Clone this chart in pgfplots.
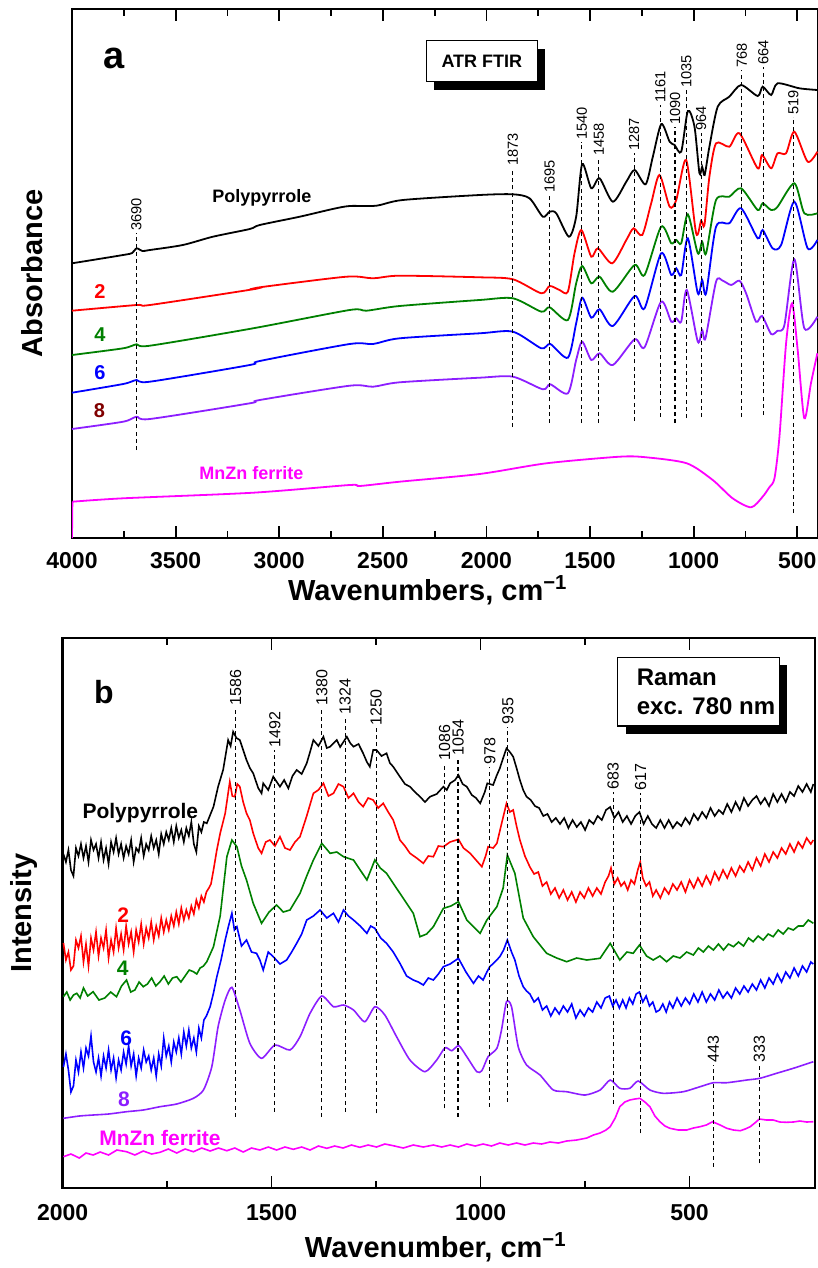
\documentclass[border=0pt]{standalone}
\usepackage{pgfplots}
\pgfplotsset{compat=1.18}
\usepackage{fontspec}
\setmainfont{Liberation Sans}
\definecolor{pgreen}{RGB}{0,128,0}
\definecolor{ppurple}{RGB}{140,30,255}
\definecolor{pmag}{RGB}{255,0,255}
\definecolor{pmaroon}{RGB}{128,0,0}
\tikzset{pk/.style={dash pattern=on 2pt off 1.6pt, line width=0.55pt}}
\begin{document}
\begin{tikzpicture}
\useasboundingbox (0pt,0pt) rectangle (409pt,-634pt);
\pgfplotsset{
  common/.style={
    scale only axis,
    axis line style={line width=1.3pt},
    every tick/.style={black, line width=0.9pt},
    major tick length=6pt, minor tick length=3.5pt,
    tick align=inside,
    /pgf/number format/assume math mode=true,
    /pgf/number format/1000 sep={},
    ticklabel style={font=\fontsize{11.5}{13}\selectfont\bfseries},
    label style={font=\fontsize{14.5}{17}\selectfont\bfseries},
    x dir=reverse,
    every axis plot/.append style={line width=0.9pt, mark=none},
    ytick=\empty,
  },
}
% ---------------- panel a ----------------
\begin{axis}[common,
  at={(36pt,-269pt)}, anchor=south west, width=373pt, height=264.5pt,
  xmin=400, xmax=4000, ymin=0, ymax=529,
  xtick={500,1000,...,4000}, minor x tick num=1,
  minor ytick={58.8,117.6,176.4,235.2,294,352.8,411.6,470.4},
  xticklabel style={anchor=base, yshift=-15pt},
  xlabel={Wavenumbers, cm\textsuperscript{−1}},
  xlabel style={at={(axis description cs:0.477,0)}, anchor=base, yshift=-31pt},
  ylabel={Absorbance},
  ylabel style={at={(axis description cs:-0.03,0.5)}, anchor=south},
  every axis plot/.append style={smooth, tension=0.45},
]
% Polypyrrole
\addplot[black] coordinates {(4000,274.7)(3753,283)(3710,285)(3688,289.7)(3660,287)(3624,288)(3465,293)(3320,301.3)(3142,309)(3094,313)(2901,321.3)(2742,329)(2660,332)(2531,332.3)(2404,338)(2033,343)(1872,343.7)(1792,339.7)(1728,321.3)(1695,326.3)(1663,324.7)(1602,301.3)(1567,321.3)(1538,374)(1494,349.7)(1454,359.7)(1390,336.3)(1325,356.3)(1285,368)(1232,353.7)(1197,381.3)(1156,414)(1116,396.3)(1092,393)(1060,386.3)(1028,427)(996,411.3)(972,364.7)(959,371.3)(947,363)(924,391.3)(884,431.3)(828,441.3)(771,453)(691,442)(667,451.3)(626,443)(595,454.7)(490,449.7)(403,448)};
% 2
\addplot[red] coordinates {(4000,227.3)(3688,233)(3624,233)(3126,248.7)(3094,250.7)(2676,261.3)(2547,259.7)(2419,262.3)(2033,260.7)(1872,258.7)(1735,244.7)(1695,252)(1647,248)(1607,246.3)(1575,284.7)(1542,308)(1494,281.3)(1462,289.7)(1393,274.7)(1325,298)(1290,309.7)(1248,303)(1205,334.7)(1165,363)(1116,331.3)(1084,338)(1036,378)(988,304.7)(964,317.3)(948,313)(924,361.3)(892,394.7)(828,391.3)(779,404.7)(691,369.7)(670,383)(626,369.7)(595,384.7)(554,384.7)(514,406.3)(450,376.3)(403,386.3)};
% 4
\addplot[pgreen] coordinates {(4000,183)(3753,189.7)(3688,193.7)(3624,192.3)(3126,209.7)(2660,228)(2579,227.3)(2419,232)(2033,238)(1872,239.7)(1735,226.3)(1695,230.7)(1607,218)(1567,254.7)(1538,272)(1494,254.7)(1454,261.3)(1390,246.3)(1285,273)(1237,263)(1157,311.3)(1108,294.7)(1084,298)(1060,294.7)(1028,323.7)(980,284.7)(959,296.3)(940,284.7)(892,338)(828,341.3)(771,349.7)(691,328)(667,334.7)(626,328)(595,331.3)(514,354.7)(466,324.7)(403,324.7)};
% 6
\addplot[blue] coordinates {(4000,145.3)(3753,154)(3688,158)(3624,156.3)(3142,173)(3094,177)(2660,194)(2547,194)(2419,199.7)(2033,204.7)(1872,206.3)(1735,189.7)(1692,194)(1607,180.3)(1567,214.7)(1538,240.3)(1494,220.3)(1454,228.7)(1390,212)(1285,242)(1237,229.7)(1157,284.7)(1108,263)(1084,269.7)(1060,263)(1028,299.7)(980,244.7)(959,258)(940,244.7)(892,311.3)(828,314.7)(771,329.7)(691,299.7)(667,308)(619,289.7)(578,293)(514,336.3)(450,289.7)(403,298)};
% 8
\addplot[ppurple] coordinates {(4000,109)(3753,116.3)(3688,121.3)(3624,119)(3142,134.7)(3094,138)(2660,152.3)(2547,151.3)(2419,155.7)(2033,160.3)(1872,161.3)(1728,148.7)(1692,153.7)(1607,144.7)(1567,178)(1538,196.3)(1494,178)(1454,184.7)(1390,173)(1285,198.7)(1237,190.7)(1157,236.3)(1108,216.3)(1084,219.7)(1060,216.3)(1033,248)(980,196.3)(959,208)(943,199.7)(892,256.3)(860,257.3)(819,253)(779,257.3)(747,244.7)(699,216.3)(670,222)(626,204)(595,207.3)(562,213)(514,278.7)(466,209.7)(403,221.3)};
% MnZn ferrite
\addplot[pmag, sharp plot] coordinates {(4000,0)(3998,36.3)};
\addplot[pmag] coordinates {(3998,36.3)(3753,39.7)(3126,45.3)(2660,53)(2611,52)(2419,56.3)(2033,64)(1711,74.7)(1358,81.3)(1229,80.7)(1033,74.7)(908,58)(812,39.7)(723,30.7)(667,41.3)(635,50.7)(610,59.7)(586,101.3)(554,194.7)(525,234.7)(498,188)(466,119.7)(434,154.7)(403,184.7)};
% peak markers
\draw[pk] (axis cs:3690,88) -- (axis cs:3690,305) node[rotate=90,anchor=west,inner sep=1pt,font=\fontsize{7.3}{8}\selectfont]{3690};
\draw[pk] (axis cs:1873,111) -- (axis cs:1873,370) node[rotate=90,anchor=west,inner sep=1pt,font=\fontsize{7.3}{8}\selectfont]{1873};
\draw[pk] (axis cs:1695,115) -- (axis cs:1695,343) node[rotate=90,anchor=west,inner sep=1pt,font=\fontsize{7.3}{8}\selectfont]{1695};
\draw[pk] (axis cs:1540,115) -- (axis cs:1540,396) node[rotate=90,anchor=west,inner sep=1pt,font=\fontsize{7.3}{8}\selectfont]{1540};
\draw[pk] (axis cs:1458,115) -- (axis cs:1458,380) node[rotate=90,anchor=west,inner sep=1pt,font=\fontsize{7.3}{8}\selectfont]{1458};
\draw[pk] (axis cs:1287,117) -- (axis cs:1287,385) node[rotate=90,anchor=west,inner sep=1pt,font=\fontsize{7.3}{8}\selectfont]{1287};
\draw[pk] (axis cs:1161,121) -- (axis cs:1161,433) node[rotate=90,anchor=west,inner sep=1pt,font=\fontsize{7.3}{8}\selectfont]{1161};
\draw[pk] (axis cs:1090,115) -- (axis cs:1090,411) node[rotate=90,anchor=west,inner sep=1pt,font=\fontsize{7.3}{8}\selectfont]{1090};
\draw[pk] (axis cs:1035,120) -- (axis cs:1035,448) node[rotate=90,anchor=west,inner sep=1pt,font=\fontsize{7.3}{8}\selectfont]{1035};
\draw[pk] (axis cs:964,121) -- (axis cs:964,405) node[rotate=90,anchor=west,inner sep=1pt,font=\fontsize{7.3}{8}\selectfont]{964};
\draw[pk] (axis cs:768,121) -- (axis cs:768,468) node[rotate=90,anchor=west,inner sep=1pt,font=\fontsize{7.3}{8}\selectfont]{768};
\draw[pk] (axis cs:664,123) -- (axis cs:664,471) node[rotate=90,anchor=west,inner sep=1pt,font=\fontsize{7.3}{8}\selectfont]{664};
\draw[pk] (axis cs:519,25) -- (axis cs:519,421) node[rotate=90,anchor=west,inner sep=1pt,font=\fontsize{7.3}{8}\selectfont]{519};
% texts
\node[font=\fontsize{19}{20}\selectfont\bfseries] at (axis cs:3795,480) {a};
\fill[black] (axis cs:2251,489.3) rectangle (axis cs:1715,448.3);
\draw[fill=white, line width=0.6pt] (axis cs:2290,497.3) rectangle (axis cs:1754,456.3);
\node[font=\fontsize{9}{10}\selectfont\bfseries] at (axis cs:2022,476.8) {ATR FTIR};
\node[font=\fontsize{9}{10}\selectfont\bfseries] at (axis cs:3084,340) {Polypyrrole};
\node[font=\fontsize{10}{11}\selectfont\bfseries, text=red] at (axis cs:3865,246.3) {2};
\node[font=\fontsize{10}{11}\selectfont\bfseries, text=pgreen] at (axis cs:3865,203) {4};
\node[font=\fontsize{10}{11}\selectfont\bfseries, text=blue] at (axis cs:3865,165) {6};
\node[font=\fontsize{10}{11}\selectfont\bfseries, text=pmaroon] at (axis cs:3868,127) {8};
\node[font=\fontsize{9}{10}\selectfont\bfseries, text=pmag] at (axis cs:3134,65.3) {MnZn ferrite};
\end{axis}
% ---------------- panel b ----------------
\begin{axis}[common,
  at={(31.3pt,-594pt)}, anchor=south west, width=376.2pt, height=275pt,
  xmin=200, xmax=2000, ymin=0, ymax=550,
  xtick={500,1000,1500,2000}, minor x tick num=1,
  minor ytick={25,50,...,525},
  xticklabel style={anchor=base, yshift=-16pt},
  xlabel={Wavenumber, cm\textsuperscript{−1}},
  xlabel style={at={(axis description cs:0.496,0)}, anchor=base, yshift=-34.5pt},
  ylabel={Intensity},
  ylabel style={at={(axis description cs:-0.024,0.5)}, anchor=south},
  every axis plot/.append style={line width=0.8pt},
]
% Polypyrrole
\addplot[black] coordinates {(1998,334)(1992,326)(1986,338)(1980,318)(1974,312)(1968,340)(1962,332)(1956,344)(1950,330)(1944,342)(1938,326)(1932,348)(1926,338)(1920,344)(1914,330)(1908,346)(1902,328)(1896,340)(1890,324)(1884,346)(1878,336)(1872,350)(1866,334)(1860,344)(1854,330)(1848,342)(1842,334)(1836,348)(1830,326)(1824,340)(1818,336)(1812,350)(1806,332)(1800,344)(1794,338)(1788,352)(1782,340)(1776,348)(1770,334)(1764,354)(1758,344)(1752,356)(1746,348)(1740,360)(1734,346)(1728,362)(1722,350)(1716,358)(1710,346)(1704,360)(1698,352)(1692,366)(1686,344)(1680,336)(1674,362)(1668,356)(1662,366)(1655,364.7)(1639,381.3)(1628,401.3)(1616,418)(1604,448)(1598,442)(1592,456.3)(1584,450)(1576,448)(1560,428)(1552,420)(1544,414.7)(1532,400)(1524,394.7)(1520,404.7)(1508,398)(1496,411.3)(1480,401.3)(1470,408)(1460,399.7)(1450,412)(1440,418)(1428,414)(1416,424.7)(1408,436)(1400,448)(1388,442)(1376,451.3)(1368,440)(1360,441.3)(1344,448)(1336,441)(1320,451.3)(1312,445)(1304,441.3)(1292,444)(1281,434.7)(1272,426)(1265,421.3)(1257,438)(1249,438)(1237,432)(1225,434.7)(1217,425)(1209,421.3)(1193,411.3)(1181,404)(1169,401.3)(1157,396)(1145,391.3)(1133,386)(1121,391.3)(1105,394)(1089,401.3)(1081,398)(1073,404.7)(1061,408)(1053,413)(1043,404)(1033,401.3)(1021,393)(1011,390)(1001,384.7)(990,396)(984,404.7)(970,403)(962,412)(954,419.7)(946,430)(938,439.7)(930,436)(922,431.3)(914,420)(906,408)(898,398)(890,391.3)(880,388)(870,382)(860,380)(850,372)(840,374)(830,366)(820,370)(810,364)(800,370)(790,360)(780,368)(770,361)(760,366)(750,358)(740,368)(730,364)(720,372)(710,368)(700,378)(690,381)(680,370)(670,376)(660,366)(650,372)(640,364)(630,372)(620,376)(610,364)(600,372)(590,364)(580,360)(570,368)(560,360)(550,368)(540,360)(530,366)(520,362)(510,370)(500,364)(490,374)(480,368)(470,376)(460,370)(450,380)(440,372)(430,378)(420,374)(410,384)(400,376)(390,386)(380,378)(370,390)(360,382)(350,388)(340,392)(330,384)(320,390)(310,382)(300,394)(290,386)(280,394)(270,386)(260,396)(250,392)(240,402)(230,396)(220,404)(210,396)(204,404)};
% 2
\addplot[red] coordinates {(1998,245)(1992,228)(1986,236)(1980,218)(1974,222)(1968,248)(1962,240)(1956,252)(1950,226)(1944,244)(1938,222)(1932,250)(1926,238)(1920,256)(1914,232)(1908,250)(1902,240)(1896,258)(1890,230)(1884,248)(1878,236)(1872,260)(1866,240)(1860,254)(1854,238)(1848,262)(1842,244)(1836,256)(1830,236)(1824,258)(1818,246)(1812,264)(1806,244)(1800,260)(1794,250)(1788,266)(1782,248)(1776,262)(1770,252)(1764,270)(1758,256)(1752,268)(1746,258)(1740,272)(1734,262)(1728,276)(1722,264)(1716,280)(1710,268)(1704,278)(1698,270)(1692,282)(1686,274)(1680,288)(1674,280)(1668,292)(1662,286)(1656,296)(1650,300)(1645,304)(1639,318)(1631,338)(1623,354.7)(1611,374.7)(1600,406.3)(1594,392)(1588,391.3)(1582,404)(1576,401.3)(1568,386)(1560,374.7)(1552,368)(1544,354.7)(1532,340)(1524,334.7)(1514,346)(1504,348)(1492,342)(1480,351.3)(1468,340)(1456,338)(1444,346)(1432,351.3)(1416,372)(1400,394.7)(1388,398)(1376,404.7)(1364,392)(1352,394.7)(1340,404)(1328,401.3)(1316,390)(1304,394.7)(1292,386)(1281,381.3)(1269,390)(1257,388)(1245,380)(1233,384.7)(1221,376)(1209,368)(1193,348)(1181,342)(1169,334.7)(1153,330)(1137,324.7)(1125,332)(1113,331.3)(1101,342)(1089,341.3)(1073,346)(1053,348.7)(1041,340)(1025,334.7)(1011,328)(997,321.3)(988,332)(982,341.3)(970,340)(961,344.7)(950,364)(938,384.7)(930,376)(922,378)(914,362)(906,348)(894,332)(882,321)(872,314)(862,316)(852,302)(842,306)(832,294)(822,300)(812,290)(802,298)(792,288)(782,296)(772,286)(762,296)(752,290)(742,300)(732,292)(722,300)(712,294)(702,306)(694,312)(688,320)(680,304)(672,310)(664,302)(656,306)(648,298)(640,308)(632,304)(624,318)(618,326)(612,310)(604,302)(596,306)(588,292)(580,298)(570,290)(560,300)(550,294)(540,304)(530,298)(520,306)(510,296)(500,308)(490,300)(480,310)(470,302)(460,312)(450,304)(440,316)(430,308)(420,318)(410,310)(400,320)(390,312)(380,322)(370,316)(360,326)(350,318)(340,330)(330,322)(320,334)(310,326)(300,336)(290,330)(280,340)(270,334)(260,344)(250,336)(240,346)(230,340)(220,350)(210,344)(204,348)};
% 4
\addplot[pgreen] coordinates {(1998,191.3)(1990,196)(1982,188)(1974,193)(1966,194.7)(1958,190)(1950,200)(1940,192)(1927,196.3)(1913,188)(1899,190)(1885,196)(1871,191.3)(1859,202)(1847,208)(1837,196)(1827,198)(1817,206)(1807,201.3)(1797,204)(1787,210)(1777,202)(1767,206.3)(1757,212)(1747,204)(1737,210)(1727,211.3)(1717,206)(1707,212)(1697,218)(1687,216.3)(1679,214)(1671,220)(1663,222)(1655,226.3)(1639,241.3)(1623,272)(1607,331.3)(1595,348)(1583,341.3)(1572,322)(1560,308)(1544,284.7)(1524,264.7)(1506,276)(1488,283)(1472,276)(1456,278)(1432,294.7)(1416,312)(1400,328)(1380,344.7)(1360,334.7)(1344,336)(1328,331.3)(1304,328)(1288,318)(1272,308)(1253,328)(1240,320)(1225,314.7)(1193,294.7)(1161,274.7)(1145,251.3)(1129,254)(1113,261.3)(1089,279.7)(1071,282)(1053,286.3)(1033,268)(1001,254.7)(985,268)(961,281.3)(946,300)(936,333)(918,314.7)(898,270)(874,251.3)(842,234.7)(818,230)(794,226.3)(770,230)(746,228)(714,229.7)(690,244.7)(667,228)(650,236)(635,234.7)(620,243)(603,232)(587,228)(571,232)(555,226.3)(539,232)(523,230)(507,236)(491,233)(479,240)(467,236)(455,242)(443,238)(431,244)(419,238)(407,244)(395,241.3)(383,246)(371,242)(359,250)(348,246.3)(336,252)(324,248)(312,254)(300,251.3)(288,258)(276,254)(264,260)(252,258)(240,262)(228,262)(216,268)(204,264.7)};
% 6
\addplot[blue] coordinates {(1998,121)(1992,134)(1986,118)(1980,96)(1974,102)(1968,128)(1962,116)(1956,136)(1950,120)(1944,140)(1938,132)(1932,152)(1926,126)(1920,116)(1914,130)(1908,112)(1902,132)(1896,120)(1890,138)(1884,118)(1878,130)(1872,110)(1866,128)(1860,118)(1854,136)(1848,124)(1842,142)(1836,122)(1830,134)(1824,112)(1818,130)(1812,120)(1806,138)(1800,126)(1794,132)(1788,118)(1782,130)(1776,112)(1770,134)(1764,122)(1758,150)(1752,132)(1746,142)(1740,126)(1734,146)(1728,136)(1722,150)(1716,134)(1710,156)(1704,142)(1698,158)(1692,140)(1686,150)(1680,136)(1674,160)(1668,150)(1662,168)(1656,172)(1647,181.3)(1639,195)(1631,211.3)(1621,228)(1611,248)(1603,262)(1595,274.7)(1589,258)(1583,261.3)(1572,242)(1560,248)(1548,236)(1536,234.7)(1528,228)(1520,218)(1508,236)(1496,231.3)(1480,224)(1464,228)(1452,236)(1440,244.7)(1428,254)(1416,268)(1400,272)(1384,278)(1368,270)(1352,274.7)(1340,266)(1328,278)(1316,272)(1304,268)(1288,262)(1272,254.7)(1263,262)(1253,259.7)(1239,250)(1225,244.7)(1209,236)(1193,224.7)(1177,212)(1161,208)(1149,206)(1137,203)(1125,210)(1113,208)(1101,214)(1089,221.3)(1073,224)(1053,229.7)(1035,216)(1017,204.7)(1005,212)(994,208)(985,216)(978,221.3)(966,226)(954,231.3)(945,238)(936,248)(926,236)(918,228)(908,212)(898,201.3)(890,197)(882,194)(872,186)(862,190)(852,178)(842,182)(832,172)(822,180)(812,174)(802,182)(792,176)(782,184)(772,170)(762,178)(752,172)(742,180)(732,176)(722,186)(712,180)(702,190)(692,192)(684,182)(676,188)(668,180)(660,188)(652,180)(644,190)(636,184)(628,194)(620,196)(612,186)(604,192)(596,182)(588,186)(580,176)(572,178)(564,184)(556,176)(548,186)(540,180)(530,190)(520,182)(510,190)(500,184)(490,194)(480,186)(470,196)(460,186)(450,194)(440,188)(430,198)(420,190)(410,196)(400,190)(390,200)(380,194)(370,202)(360,196)(350,204)(340,198)(330,208)(320,200)(310,210)(300,204)(290,214)(280,206)(270,216)(260,210)(250,220)(240,212)(230,222)(220,216)(210,226)(204,224)};
% 8
\addplot[ppurple, smooth, tension=0.4] coordinates {(1998,69.7)(1960,72)(1927,73)(1890,74)(1847,76.3)(1807,78)(1767,81.3)(1727,84)(1687,89.7)(1663,98)(1643,121.3)(1628,161.3)(1611,188)(1595,200.7)(1576,178)(1552,144.7)(1524,129.7)(1492,143)(1456,138)(1432,151.3)(1408,174.7)(1380,192)(1352,181.3)(1328,183)(1304,178)(1277,166.3)(1253,181.3)(1229,173)(1201,151.3)(1169,128)(1133,116.3)(1105,128)(1085,140.3)(1069,137.3)(1052,142.3)(1033,131.3)(1009,116.3)(997,117.3)(982,131.3)(961,139.7)(950,158)(938,186.3)(926,181.3)(910,141.3)(890,123)(858,113)(826,98)(794,96.3)(750,93)(714,98)(690,108)(667,99.7)(643,99.7)(623,107)(595,98)(563,94.7)(515,96.3)(475,101.3)(443,105.3)(411,105.3)(363,108)(332,109.7)(292,114.7)(252,119.7)(204,126.3)};
% MnZn ferrite
\addplot[pmag] coordinates {(1998,31.3)(1980,34)(1960,30)(1944,35)(1927,33)(1910,36)(1890,33)(1870,38)(1847,36.3)(1827,33)(1807,37)(1787,34)(1767,35.7)(1747,39)(1727,35)(1707,39)(1687,36.3)(1667,40)(1647,37)(1627,40)(1607,37.3)(1588,40)(1568,36)(1548,40)(1528,38)(1508,41)(1488,38)(1468,41)(1448,38.7)(1428,41)(1408,38)(1388,42)(1368,39.7)(1349,42)(1329,40)(1309,43)(1289,40.7)(1269,43)(1249,41)(1229,44)(1209,42.3)(1185,40)(1161,43)(1137,41)(1113,43)(1093,41)(1073,43)(1053,41)(1033,44)(1013,42)(994,44)(974,42)(954,45)(934,43)(914,45)(894,43)(874,45)(854,44)(834,46)(814,45)(794,47)(770,48)(746,50)(730,53)(714,55)(700,58)(690,61.3)(678,70)(667,81.3)(655,86)(643,88)(631,89)(619,89.7)(607,86)(595,81.3)(583,72)(571,66.3)(559,62)(547,59.7)(527,58)(507,58)(491,60)(475,61.3)(460,63)(445,66.3)(427,63)(411,59.7)(395,58)(379,57.3)(367,59)(355,61.3)(344,65)(333,69)(316,68)(300,68)(284,66)(268,65.7)(252,66)(236,67)(220,66)(204,66.3)};
% peak markers
\draw[pk] (axis cs:1586,71.3) -- (axis cs:1586,480) node[rotate=90,anchor=west,inner sep=1pt,font=\fontsize{8}{9}\selectfont]{1586};
\draw[pk] (axis cs:1492,76.3) -- (axis cs:1492,438) node[rotate=90,anchor=west,inner sep=1pt,font=\fontsize{8}{9}\selectfont]{1492};
\draw[pk] (axis cs:1380,71.3) -- (axis cs:1380,480) node[rotate=90,anchor=west,inner sep=1pt,font=\fontsize{8}{9}\selectfont]{1380};
\draw[pk] (axis cs:1324,76.3) -- (axis cs:1324,471) node[rotate=90,anchor=west,inner sep=1pt,font=\fontsize{8}{9}\selectfont]{1324};
\draw[pk] (axis cs:1250,74.7) -- (axis cs:1250,460) node[rotate=90,anchor=west,inner sep=1pt,font=\fontsize{8}{9}\selectfont]{1250};
\draw[pk] (axis cs:1086,79.7) -- (axis cs:1086,425) node[rotate=90,anchor=west,inner sep=1pt,font=\fontsize{8}{9}\selectfont]{1086};
\draw[pk] (axis cs:1054,71.3) -- (axis cs:1054,430) node[rotate=90,anchor=west,inner sep=1pt,font=\fontsize{8}{9}\selectfont]{1054};
\draw[pk] (axis cs:978,81.3) -- (axis cs:978,421) node[rotate=90,anchor=west,inner sep=1pt,font=\fontsize{8}{9}\selectfont]{978};
\draw[pk] (axis cs:935,86.3) -- (axis cs:935,461) node[rotate=90,anchor=west,inner sep=1pt,font=\fontsize{8}{9}\selectfont]{935};
\draw[pk] (axis cs:683,84) -- (axis cs:683,396) node[rotate=90,anchor=west,inner sep=1pt,font=\fontsize{8}{9}\selectfont]{683};
\draw[pk] (axis cs:617,54.7) -- (axis cs:617,395) node[rotate=90,anchor=west,inner sep=1pt,font=\fontsize{8}{9}\selectfont]{617};
\draw[pk] (axis cs:443,21.3) -- (axis cs:443,123) node[rotate=90,anchor=west,inner sep=1pt,font=\fontsize{8}{9}\selectfont]{443};
\draw[pk] (axis cs:333,24.7) -- (axis cs:333,123) node[rotate=90,anchor=west,inner sep=1pt,font=\fontsize{8}{9}\selectfont]{333};
% texts
\node[font=\fontsize{16}{18}\selectfont\bfseries] at (axis cs:1901,495.5) {b};
\fill[black] (axis cs:653,522.7) rectangle (axis cs:266,454);
\draw[fill=white, line width=0.6pt] (axis cs:672,530.7) rectangle (axis cs:285,462);
\node[anchor=west, align=left, font=\fontsize{12}{14.5}\selectfont\bfseries] at (axis cs:643,496.3) {Raman\\exc. 780 nm};
\node[font=\fontsize{10.5}{12}\selectfont\bfseries] at (axis cs:1814,375) {Polypyrrole};
\node[font=\fontsize{10.5}{12}\selectfont\bfseries, text=red] at (axis cs:1855,273) {2};
\node[font=\fontsize{10.5}{12}\selectfont\bfseries, text=pgreen] at (axis cs:1856,219.7) {4};
\node[font=\fontsize{10.5}{12}\selectfont\bfseries, text=blue] at (axis cs:1848,150) {6};
\node[font=\fontsize{10.5}{12}\selectfont\bfseries, text=ppurple] at (axis cs:1853,89) {8};
\node[font=\fontsize{10.5}{12}\selectfont\bfseries, text=pmag] at (axis cs:1767,50) {MnZn ferrite};
\end{axis}
\end{tikzpicture}
\end{document}
